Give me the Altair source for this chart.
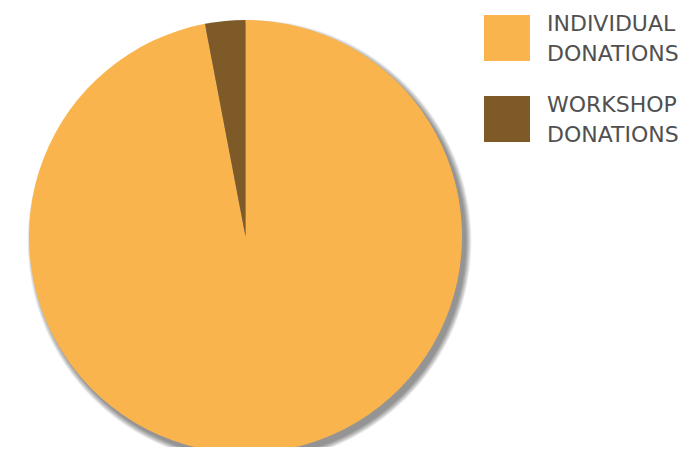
import altair as alt
import pandas as pd

categories = ["INDIVIDUAL DONATIONS", "WORKSHOP DONATIONS"]
values = [97, 3]
colors = ["#FAB44E", "#7D5A27"]

df = pd.DataFrame({"category": categories, "value": values, "order": [0, 1]})

CX, CY, R = 237.5, 228.5, 216.5

color_scale = alt.Scale(domain=categories, range=colors)

shadow_layers = []
for k in range(0, 10):
    shadow_layers.append(
        alt.Chart(pd.DataFrame({"v": [1]})).mark_arc(
            radius=R + k * 0.6, color="#000000", opacity=0.05, theta=0, theta2=6.2832
        ).encode(x=alt.value(CX + 4), y=alt.value(CY + 5))
    )

pie = alt.Chart(df).mark_arc(radius=R, stroke=None).encode(
    theta=alt.Theta("value:Q", stack=True),
    order=alt.Order("order:Q"),
    color=alt.Color("category:N", scale=color_scale, legend=None),
    x=alt.value(CX),
    y=alt.value(CY),
)

ypos = alt.Y("order:Q", scale=alt.Scale(domain=[0, 1], range=[30, 111]), axis=None)

legend_sq = alt.Chart(df).mark_square(size=2116, opacity=1, strokeWidth=0).encode(
    x=alt.value(499),
    y=ypos,
    color=alt.Color("category:N", scale=color_scale, legend=None),
)

legend_txt = alt.Chart(df).transform_calculate(
    lines="split(datum.category, ' ')"
).mark_text(
    align="left", baseline="middle", font="DejaVu Sans", fontSize=22,
    lineHeight=30, color="#505050", dy=-14
).encode(
    x=alt.value(539),
    y=ypos,
    text="lines:N",
)

chart = alt.layer(*shadow_layers, pie, legend_sq, legend_txt).properties(
    width=677, height=439, padding=0, autosize=alt.AutoSizeParams(type="none")
).configure_view(stroke=None)

chart.save("out.html", embed_options={"renderer": "svg", "actions": False})
